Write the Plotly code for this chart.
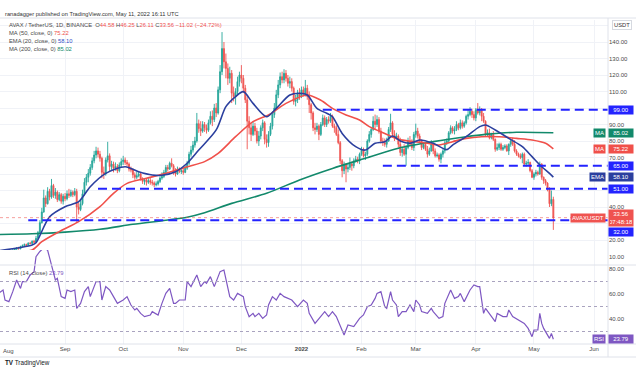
import plotly.graph_objects as go
from datetime import date, timedelta

# ---------------- data ----------------
start_day = date(2021, 7, 29)
first_open = 12.6

closes = [
    12.8, 13.3, 13.1,
    12.9, 12.7, 12.5, 13.3, 13.9, 14.4, 15.2, 14.7, 16.1, 16.6, 17.2, 16.8, 18.1, 17.9, 19.2, 18.7, 21.0, 24.5, 30.5, 37.0,
    45.5, 42.0, 49.5, 46.0, 53.0, 47.0, 49.0, 44.5, 47.5, 43.5, 46.5,
    45.0, 48.0, 47.0, 49.0, 47.5, 49.5, 40.0, 38.5, 42.0, 48.0, 55.0, 58.0, 60.5, 64.0, 68.0, 71.5, 74.0, 72.0, 69.5, 61.0,
    60.0, 68.5, 71.0, 64.5, 66.0, 63.5, 64.5, 62.0, 65.5, 67.5,
    68.5, 67.0, 66.0, 63.0, 62.5, 59.5, 58.0, 59.0, 60.0, 57.0, 55.5, 56.5, 55.0, 56.0, 55.0, 54.5, 53.5, 54.0, 55.5, 57.5,
    58.5, 61.0, 64.0, 63.0, 66.5, 65.0, 61.5, 60.0, 63.0, 61.5, 62.0,
    61.0, 63.5, 66.5, 72.0, 74.5, 77.5, 80.0, 90.5, 87.5, 86.0, 90.0, 88.0, 86.5, 91.0, 95.0, 93.0, 100.0, 97.0, 111.0, 122.0,
    136.0, 128.0, 124.0, 118.0, 121.0, 109.0, 107.0, 110.0, 116.0, 120.0,
    118.0, 112.0, 105.0, 92.0, 88.0, 84.0, 89.0, 86.0, 80.0, 83.0, 88.0, 91.0, 81.0, 79.0, 84.0, 89.0, 96.0, 100.0, 108.0, 114.0,
    119.0, 117.0, 121.0, 118.0, 115.0, 116.0, 112.0, 104.0, 105.0, 109.0, 107.0,
    111.0, 109.0, 112.0, 107.0, 102.0, 97.0, 88.0, 87.0, 89.0, 84.0, 90.0, 94.0, 90.0, 93.0, 92.0, 95.0, 89.0, 88.0, 84.0, 79.0,
    68.0, 62.0, 66.0, 63.0, 64.0, 66.0, 65.0, 68.0, 69.0, 68.0, 72.0,
    75.0, 71.0, 72.0, 80.0, 84.0, 87.0, 92.0, 90.0, 93.0, 86.0, 80.0, 79.0, 78.0, 80.0, 87.0, 91.0, 84.0, 82.0, 83.0, 78.0,
    73.0, 75.0, 72.0, 76.0, 80.0, 78.0, 76.0, 84.0,
    86.0, 83.0, 80.0, 76.0, 78.0, 75.0, 72.0, 74.0, 78.0, 74.0, 71.0, 71.5, 69.0, 72.0, 74.0, 79.0, 80.0, 85.0, 88.0, 86.0,
    87.0, 90.0, 88.0, 91.0, 89.0, 91.0, 95.0, 96.0, 98.0, 96.0, 94.0,
    99.0, 97.0, 99.0, 95.0, 92.0, 84.0, 85.0, 82.0, 84.0, 81.0, 75.0, 76.0, 78.0, 75.0, 76.0, 77.0, 74.0, 78.0, 80.0, 78.0,
    74.0, 72.0, 71.0, 70.0, 72.0, 66.0, 66.5, 67.0, 62.0, 58.0,
    60.0, 61.0, 60.0, 66.0, 58.0, 56.0, 54.5, 51.0, 42.0, 44.58, 33.56,
]

highs = [
    13.1, 13.5, 13.6,
    13.5, 13.2, 13.0, 13.6, 14.3, 14.8, 15.7, 15.9, 16.5, 17.3, 17.9, 17.8, 18.6, 18.9, 19.8, 20.1, 22.5, 25.5, 32.0, 39.5,
    50.5, 47.0, 52.0, 51.0, 57.0, 54.0, 51.5, 50.0, 49.0, 48.5, 48.0,
    48.5, 50.0, 51.0, 50.5, 50.0, 51.5, 51.0, 43.0, 44.0, 50.5, 57.5, 60.0, 63.0, 66.0, 70.0, 74.0, 76.5, 76.0, 74.0, 70.5,
    64.5, 70.0, 79.5, 72.5, 68.0, 67.5, 67.0, 66.0, 67.0, 69.5,
    71.0, 70.0, 68.5, 67.0, 64.5, 63.5, 61.0, 61.5, 61.5, 61.0, 58.0, 57.5, 57.5, 57.5, 57.5, 56.5, 55.5, 55.5, 56.5, 58.5,
    61.0, 62.5, 65.5, 65.5, 67.5, 69.5, 66.0, 63.5, 64.5, 64.0, 63.5,
    63.5, 65.0, 68.0, 73.5, 77.0, 80.0, 82.5, 97.0, 93.0, 92.0, 92.0, 91.5, 90.0, 93.0, 98.0, 98.5, 102.5, 103.0, 113.0, 126.0,
    146.0, 140.0, 133.0, 127.0, 125.0, 123.0, 113.0, 112.0, 119.0, 122.0,
    126.0, 120.0, 114.0, 107.0, 95.0, 91.0, 92.0, 91.0, 88.0, 86.0, 89.5, 93.0, 92.0, 84.0, 86.0, 91.0, 98.0, 103.0, 111.0, 117.0,
    121.5, 122.0, 123.5, 123.0, 120.0, 119.0, 118.0, 113.0, 108.0, 111.0, 112.0,
    113.0, 113.0, 117.0, 114.0, 110.0, 103.0, 98.0, 91.0, 91.0, 90.0, 91.5, 96.0, 95.5, 94.5, 95.0, 97.0, 96.0, 90.5, 89.5, 87.0,
    80.0, 69.0, 67.5, 66.5, 66.5, 70.0, 67.5, 69.5, 71.0, 70.5, 73.0,
    76.5, 76.0, 73.5, 81.0, 86.0, 88.5, 95.0, 96.0, 95.5, 94.5, 88.0, 82.0, 81.5, 82.0, 88.5, 96.5, 92.0, 86.5, 85.0, 84.0,
    82.0, 76.5, 78.0, 77.5, 82.0, 83.0, 81.0, 85.5,
    90.5, 88.0, 84.5, 81.0, 79.0, 79.0, 77.0, 76.0, 80.5, 78.5, 75.5, 73.0, 72.5, 73.0, 75.0, 80.5, 81.5, 86.0, 89.5, 89.0,
    89.0, 92.0, 91.0, 93.0, 92.5, 92.0, 96.0, 99.0, 100.5, 99.5, 98.0,
    100.0, 103.0, 101.0, 100.0, 97.0, 92.5, 87.0, 87.5, 85.0, 86.0, 81.5, 78.5, 79.0, 79.0, 77.5, 78.0, 78.0, 78.5, 81.5, 82.0,
    80.5, 75.0, 73.0, 72.5, 73.0, 73.0, 68.0, 69.0, 67.5, 63.0,
    61.0, 62.5, 62.0, 67.5, 66.5, 58.5, 57.0, 55.0, 52.0, 50.0, 46.25,
]

lows = [
    12.4, 12.6, 12.9,
    12.6, 12.4, 12.1, 12.3, 13.0, 13.6, 14.2, 14.3, 14.4, 15.8, 16.3, 16.2, 16.6, 17.4, 17.6, 18.2, 18.5, 20.6, 24.0, 30.0,
    36.5, 40.0, 41.5, 44.0, 45.0, 45.5, 45.0, 43.0, 43.5, 42.0, 41.5,
    43.5, 44.0, 45.5, 46.0, 46.0, 46.5, 31.0, 35.5, 37.5, 41.0, 47.0, 53.0, 55.0, 59.0, 62.5, 66.5, 69.5, 70.0, 67.5, 57.5,
    57.0, 59.0, 67.0, 61.5, 62.5, 61.0, 62.0, 60.5, 61.0, 64.0,
    65.5, 65.5, 64.5, 61.5, 61.0, 57.5, 56.5, 57.0, 58.0, 56.0, 54.0, 53.5, 53.0, 54.0, 53.5, 53.0, 52.0, 52.5, 53.0, 54.5,
    56.5, 57.5, 60.0, 61.5, 62.5, 64.0, 59.5, 58.5, 59.5, 60.5, 60.0,
    59.5, 60.5, 62.5, 65.5, 70.5, 73.0, 76.0, 79.0, 85.0, 83.0, 85.0, 85.5, 84.5, 85.5, 90.0, 89.0, 91.5, 94.5, 96.0, 109.0,
    120.0, 124.0, 118.0, 114.0, 115.0, 103.0, 104.0, 102.0, 108.0, 113.0,
    115.0, 109.0, 103.0, 75.0, 84.0, 80.0, 83.0, 83.5, 78.5, 77.0, 81.0, 86.0, 78.0, 76.0, 76.5, 83.0, 87.0, 94.0, 99.0, 106.0,
    112.0, 115.0, 115.0, 116.0, 113.0, 112.0, 110.0, 102.0, 101.0, 103.0, 105.0,
    106.0, 107.0, 107.0, 105.0, 97.0, 93.0, 86.0, 84.0, 85.5, 80.5, 83.0, 89.0, 88.5, 88.5, 90.5, 91.0, 88.0, 85.0, 83.0, 78.0,
    66.0, 58.0, 60.0, 55.0, 61.0, 62.5, 62.0, 63.5, 67.0, 66.5, 66.0,
    71.0, 70.0, 68.5, 71.0, 79.0, 82.0, 86.0, 87.0, 88.5, 84.5, 78.5, 77.0, 76.5, 76.0, 79.5, 85.5, 82.0, 80.0, 81.0, 76.0,
    71.0, 70.5, 71.0, 65.0, 75.0, 77.0, 74.5, 74.0,
    82.0, 81.5, 79.0, 74.5, 75.0, 74.0, 70.0, 71.0, 73.5, 72.0, 70.0, 70.0, 67.5, 66.5, 70.0, 72.5, 77.5, 78.5, 84.0, 84.5,
    84.0, 86.0, 86.5, 87.0, 87.5, 88.0, 90.0, 93.0, 95.0, 94.0, 92.5,
    92.0, 96.0, 95.5, 92.0, 91.0, 83.0, 82.5, 81.0, 81.0, 80.0, 73.5, 74.0, 74.5, 74.0, 74.0, 75.0, 73.5, 71.5, 76.5, 77.0,
    73.0, 71.0, 70.0, 69.0, 66.5, 65.0, 64.5, 65.0, 61.0, 57.5,
    56.5, 58.5, 59.0, 59.5, 56.5, 54.0, 53.0, 49.5, 40.0, 40.5, 26.11,
]

ema20_dates = ['2021-07-29', '2021-08-15', '2021-08-17', '2021-08-24', '2021-09-01', '2021-09-08', '2021-09-14',
               '2021-09-22', '2021-10-02', '2021-10-09', '2021-10-16', '2021-10-21', '2021-10-28', '2021-11-03',
               '2021-11-09', '2021-11-18', '2021-11-23', '2021-11-28', '2021-12-02', '2021-12-07', '2021-12-14',
               '2021-12-19', '2021-12-26', '2021-12-31', '2022-01-04', '2022-01-09', '2022-01-14', '2022-01-17',
               '2022-01-22', '2022-01-29', '2022-02-03', '2022-02-08', '2022-02-13', '2022-02-17', '2022-02-21',
               '2022-02-26', '2022-03-03', '2022-03-10', '2022-03-17', '2022-03-20', '2022-03-27', '2022-04-03',
               '2022-04-06', '2022-04-11', '2022-04-18', '2022-04-25', '2022-04-30', '2022-05-05', '2022-05-09',
               '2022-05-11']
ema20_vals = [13.5, 17.0, 18.3, 34.1, 40.2, 43.2, 52.3, 60.4, 64.4, 61.4, 59.4, 59.2, 61.4, 66.5, 74.5, 86.7, 100.8,
              106.9, 109.9, 102.8, 94.7, 99.8, 107.9, 108.9, 107.9, 99.8, 96.8, 94.7, 84.6, 76.6, 74.5, 78.6, 79.6,
              83.0, 80.0, 78.6, 80.6, 78.6, 74.8, 77.5, 82.6, 88.7, 89.7, 86.7, 81.6, 76.6, 70.5, 64.4, 60.4, 58.10]

ma50_dates = ['2021-07-29', '2021-08-15', '2021-08-20', '2021-08-29', '2021-09-08', '2021-09-19', '2021-09-26',
              '2021-10-03', '2021-10-13', '2021-10-23', '2021-11-03', '2021-11-12', '2021-11-19', '2021-11-28',
              '2021-12-07', '2021-12-15', '2021-12-24', '2022-01-04', '2022-01-11', '2022-01-17', '2022-01-24',
              '2022-01-31', '2022-02-05', '2022-02-13', '2022-02-20', '2022-02-28', '2022-03-07', '2022-03-13',
              '2022-03-20', '2022-03-27', '2022-04-04', '2022-04-13', '2022-04-22', '2022-04-30', '2022-05-07',
              '2022-05-11']
ma50_vals = [12.2, 13.9, 19.0, 25.1, 31.1, 40.2, 48.3, 54.3, 57.4, 60.4, 64.4, 67.5, 72.5, 82.6, 91.7, 95.8, 102.8,
             107.9, 104.7, 99.8, 95.8, 92.7, 88.7, 84.6, 81.0, 79.6, 78.6, 77.6, 79.6, 81.6, 82.6, 82.6, 81.6, 80.6,
             78.6, 75.22]

ma200_dates = ['2021-07-29', '2021-08-15', '2021-09-01', '2021-09-19', '2021-10-06', '2021-10-23', '2021-11-03',
               '2021-11-12', '2021-11-26', '2021-12-14', '2021-12-31', '2022-01-17', '2022-02-03', '2022-02-20',
               '2022-03-10', '2022-03-27', '2022-04-06', '2022-04-22', '2022-05-11']
ma200_vals = [23.3, 23.8, 24.8, 26.5, 29.5, 32.0, 33.8, 36.5, 42.2, 48.3, 56.4, 63.4, 69.5, 75.6, 79.6, 82.6, 84.0,
              85.3, 85.02]

rsi_dates = ['2021-07-29', '2021-07-31', '2021-08-01', '2021-08-03', '2021-08-05', '2021-08-07', '2021-08-09',
             '2021-08-10', '2021-08-12', '2021-08-14', '2021-08-16', '2021-08-17', '2021-08-19', '2021-08-21',
             '2021-08-23', '2021-08-25', '2021-08-27', '2021-08-28', '2021-08-30', '2021-09-01', '2021-09-02',
             '2021-09-04', '2021-09-06', '2021-09-07', '2021-09-09', '2021-09-11', '2021-09-13', '2021-09-14',
             '2021-09-17', '2021-09-19', '2021-09-20', '2021-09-22', '2021-09-24', '2021-09-26', '2021-09-28',
             '2021-10-01', '2021-10-03', '2021-10-05', '2021-10-07', '2021-10-08', '2021-10-10', '2021-10-12',
             '2021-10-15', '2021-10-16', '2021-10-19', '2021-10-21', '2021-10-23', '2021-10-25', '2021-10-27',
             '2021-10-28', '2021-10-30', '2021-11-02', '2021-11-03', '2021-11-05', '2021-11-07', '2021-11-08',
             '2021-11-10', '2021-11-12', '2021-11-13', '2021-11-15', '2021-11-17', '2021-11-19', '2021-11-20',
             '2021-11-22', '2021-11-24', '2021-11-25', '2021-11-27', '2021-11-29', '2021-12-02', '2021-12-03',
             '2021-12-05', '2021-12-07', '2021-12-08', '2021-12-10', '2021-12-12', '2021-12-14', '2021-12-15',
             '2021-12-17', '2021-12-19', '2021-12-21', '2021-12-23', '2021-12-25', '2021-12-27', '2021-12-30',
             '2022-01-01', '2022-01-02', '2022-01-04', '2022-01-05', '2022-01-08', '2022-01-10', '2022-01-13',
             '2022-01-15', '2022-01-17', '2022-01-19', '2022-01-21', '2022-01-23', '2022-01-25', '2022-01-28',
             '2022-01-31', '2022-02-02', '2022-02-04', '2022-02-06', '2022-02-08', '2022-02-09', '2022-02-11',
             '2022-02-13', '2022-02-14', '2022-02-16', '2022-02-17', '2022-02-19', '2022-02-20', '2022-02-22',
             '2022-02-24', '2022-02-26', '2022-02-28', '2022-03-01', '2022-03-03', '2022-03-04', '2022-03-07',
             '2022-03-09', '2022-03-10', '2022-03-13', '2022-03-15', '2022-03-16', '2022-03-19', '2022-03-21',
             '2022-03-23', '2022-03-24', '2022-03-26', '2022-03-28', '2022-03-29', '2022-03-31', '2022-04-02',
             '2022-04-03', '2022-04-05', '2022-04-06', '2022-04-08', '2022-04-11', '2022-04-12', '2022-04-15',
             '2022-04-17', '2022-04-18', '2022-04-20', '2022-04-23', '2022-04-24', '2022-04-26', '2022-04-28',
             '2022-04-30', '2022-05-01', '2022-05-03', '2022-05-04', '2022-05-05', '2022-05-06', '2022-05-09',
             '2022-05-10', '2022-05-11']
rsi_vals = [61.0, 63.2, 55.2, 53.9, 61.9, 71.2, 64.5, 69.9, 69.9, 75.2, 77.9, 89.9, 94.0, 97.0, 95.0, 83.2, 71.2,
            72.5, 57.9, 56.5, 63.2, 61.9, 63.2, 48.5, 52.5, 61.9, 65.9, 57.9, 69.9, 69.9, 55.2, 65.9, 63.2, 57.9,
            52.5, 55.2, 57.9, 51.2, 47.2, 48.5, 44.5, 41.9, 43.2, 45.9, 43.2, 52.5, 60.5, 64.5, 52.5, 52.5, 55.2,
            55.2, 69.9, 65.9, 72.5, 75.2, 65.9, 69.9, 68.5, 73.9, 65.9, 73.9, 77.9, 79.2, 64.5, 57.9, 55.2, 60.5,
            57.9, 49.9, 41.9, 44.5, 41.9, 44.5, 40.5, 43.2, 51.2, 57.9, 55.2, 60.5, 57.9, 56.5, 55.2, 49.9, 53.9,
            55.2, 52.5, 44.5, 36.5, 40.5, 45.9, 41.9, 45.9, 41.9, 35.2, 27.2, 35.2, 33.9, 40.5, 43.2, 49.9, 51.2,
            56.5, 60.5, 61.9, 49.9, 48.5, 61.9, 55.2, 51.2, 41.9, 45.9, 45.9, 51.2, 45.9, 55.2, 51.2, 45.9, 44.5,
            48.5, 45.9, 40.5, 41.9, 52.5, 63.2, 56.5, 57.9, 60.5, 53.9, 60.5, 63.2, 67.2, 65.9, 65.9, 44.5, 48.5,
            44.5, 37.9, 44.5, 41.9, 41.9, 47.2, 41.9, 39.2, 37.9, 36.5, 32.5, 25.9, 31.2, 31.2, 44.5, 36.5, 32.5,
            24.5, 28.5, 23.79]

level_values = [99.0, 65.0, 51.0, 32.0]
level_starts = ['2022-01-12', '2022-02-12', '2021-09-18', '2021-08-13']

month_ticks = ['2021-08-01', '2021-09-01', '2021-10-01', '2021-11-01', '2021-12-01', '2022-01-01',
               '2022-02-01', '2022-03-01', '2022-04-01', '2022-05-01', '2022-06-01']
month_labels = ['Aug', 'Sep', 'Oct', 'Nov', 'Dec', '<b>2022</b>', 'Feb', 'Mar', 'Apr', 'May', 'Jun']

price_ticks = [10, 20, 30, 40, 50, 60, 70, 80, 90, 100, 110, 120, 130, 140, 150]
price_tick_labels = ['10.00', '20.00', '', '40.00', '', '', '70.00', '80.00', '90.00', '', '110.00', '120.00',
                     '130.00', '140.00', '']
rsi_ticks = [40, 60, 80]
rsi_tick_labels = ['40.00', '60.00', '80.00']

last_open, last_high, last_low, last_close = 44.58, 46.25, 26.11, 33.56
last_change, last_change_pct = -11.02, -24.72
ma50_last, ema20_last, ma200_last, rsi_last = 75.22, 58.10, 85.02, 23.79
countdown = '07:48:18'

# ---------------- styling ----------------
W, H = 636, 370
PLOT_TOP, PLOT_BOTTOM = 20, 344
PW = 608
PH = PLOT_BOTTOM - PLOT_TOP
X0, X1 = '2021-07-29 10:00', '2022-06-08 05:00'
UP, DOWN = '#26a69a', '#ef5350'
C_EMA, C_MA50, C_MA200, C_RSI = '#2b3f9e', '#f0504a', '#12896b', '#7e57c2'
C_LEVEL = '#2323ff'
FONT = 'Liberation Sans'
TXT = '#4a4a4a'


def pyp(px):
    return (PLOT_BOTTOM - px) / PH


dates = [(start_day + timedelta(days=i)).isoformat() for i in range(len(closes))]
opens = [first_open] + closes[:-1]

fig = go.Figure()
fig.add_trace(go.Candlestick(
    x=dates, open=opens, high=highs, low=lows, close=closes,
    increasing=dict(line=dict(color=UP, width=0.9), fillcolor=UP),
    decreasing=dict(line=dict(color=DOWN, width=0.9), fillcolor=DOWN),
    whiskerwidth=0, showlegend=False, hoverinfo='skip', xaxis='x', yaxis='y'))

for xs, ys, col in [(ma200_dates, ma200_vals, C_MA200), (ma50_dates, ma50_vals, C_MA50),
                    (ema20_dates, ema20_vals, C_EMA)]:
    fig.add_trace(go.Scatter(x=xs, y=ys, mode='lines', line=dict(color=col, width=1.6, shape='spline', smoothing=0.8),
                             showlegend=False, hoverinfo='skip', xaxis='x', yaxis='y'))

fig.add_trace(go.Scatter(x=rsi_dates, y=rsi_vals, mode='lines', line=dict(color=C_RSI, width=1.2),
                         showlegend=False, hoverinfo='skip', xaxis='x', yaxis='y2'))

shapes = []
shapes.append(dict(type='rect', xref='paper', yref='y2', x0=0, x1=1, y0=30, y1=70,
                   fillcolor='rgba(126,87,194,0.10)', line=dict(width=0), layer='below'))
for lv in (70, 50, 30):
    shapes.append(dict(type='line', xref='paper', yref='y2', x0=0, x1=1, y0=lv, y1=lv,
                       line=dict(color='#a9a3bf', width=1, dash='3px,3px')))
shapes.append(dict(type='line', xref='x', yref='y', x0=X0, x1=X1, y0=last_close, y1=last_close,
                   line=dict(color='rgba(239,83,80,0.55)', width=1, dash='dot')))
for lv, st in zip(level_values, level_starts):
    shapes.append(dict(type='line', xref='x', yref='y', x0=st, x1=X1, y0=lv, y1=lv,
                       line=dict(color=C_LEVEL, width=2, dash='9px,5px')))
for yline in (265, 344, 357, 18):
    shapes.append(dict(type='line', xref='paper', yref='paper', x0=0, x1=W / PW, y0=pyp(yline), y1=pyp(yline),
                       line=dict(color='#dfe2ea', width=1)))
shapes.append(dict(type='line', xref='paper', yref='paper', x0=1, x1=1, y0=pyp(357), y1=pyp(18),
                   line=dict(color='#dfe2ea', width=1)))

ann = []


def text(x_px, y_px, s, size=6, color=TXT):
    ann.append(dict(xref='paper', yref='paper', x=x_px / PW, y=pyp(y_px), text=s, showarrow=False,
                    xanchor='left', yanchor='middle', font=dict(family=FONT, size=size, color=color)))


def red(s):
    return "<span style='color:%s'>%s</span>" % (DOWN, s)


text(3, 14, 'ranadagger published on TradingView.com, May 11, 2022 16:11 UTC', size=5.7, color='#333333')
text(7, 25, 'AVAX / TetherUS, 1D, BINANCE  O' + red('%.2f' % last_open) + ' H' + red('%.2f' % last_high) +
     ' L' + red('%.2f' % last_low) + ' C' + red('%.2f' % last_close) + ' ' +
     red('\u2212%.2f (\u2212%.2f%%)' % (abs(last_change), abs(last_change_pct))), size=5.8)
text(7, 33, "MA (50, close, 0) <span style='color:%s'>%.2f</span>" % (C_MA50, ma50_last), size=5.8)
text(7, 41, "EMA (20, close, 0) <span style='color:%s'>%.2f</span>" % ('#3150c8', ema20_last), size=5.8)
text(7, 49, "MA (200, close, 0) <span style='color:%s'>%.2f</span>" % (C_MA200, ma200_last), size=5.8)
text(7, 273, "RSI (14, close) <span style='color:%s'>%.2f</span>" % (C_RSI, rsi_last), size=5.8)
text(3, 363, "<b>TV</b> TradingView", size=6.3, color='#131722')
# first month label sits at the very left edge, where plotly drops the tick label
text(1, 351, month_labels[0], size=6)


def value_box(y, yref, s, bg, yshift=0, fg='white'):
    ann.append(dict(xref='paper', yref=yref, x=1, y=y, text=s, showarrow=False, xanchor='left',
                    yanchor='middle', xshift=0, yshift=yshift, width=22, align='center', bgcolor=bg,
                    borderpad=1, font=dict(family=FONT, size=6, color=fg)))


def name_box(y, yref, s, bg):
    ann.append(dict(xref='paper', yref=yref, x=1, y=y, text=s, showarrow=False, xanchor='right',
                    yanchor='middle', xshift=-2, bgcolor=bg, borderpad=1,
                    font=dict(family=FONT, size=6, color='white')))


for lv in level_values[:3]:
    value_box(lv, 'y', '%.2f' % lv, C_LEVEL)
value_box(level_values[3], 'y', '%.2f' % level_values[3], C_LEVEL, yshift=-12)
value_box(ma200_last, 'y', '%.2f' % ma200_last, C_MA200)
name_box(ma200_last, 'y', 'MA', C_MA200)
value_box(ma50_last, 'y', '%.2f' % ma50_last, C_MA50)
name_box(ma50_last, 'y', 'MA', C_MA50)
value_box(ema20_last, 'y', '%.2f' % ema20_last, C_EMA)
name_box(ema20_last, 'y', 'EMA', C_EMA)
value_box(last_close, 'y', '%.2f<br>%s' % (last_close, countdown), DOWN)
name_box(last_close, 'y', 'AVAXUSDT', DOWN)
value_box(rsi_last, 'y2', '%.2f' % rsi_last, C_RSI)
name_box(rsi_last, 'y2', 'RSI', C_RSI)
ann.append(dict(xref='paper', yref='paper', x=1, y=pyp(25), text='USDT', showarrow=False, xanchor='left',
                yanchor='middle', xshift=4, bgcolor='white', bordercolor='#d6d9e0', borderwidth=1, borderpad=1,
                font=dict(family=FONT, size=5.8, color='#333333')))

fig.update_layout(
    width=W, height=H, margin=dict(l=0, r=W - PW, t=PLOT_TOP, b=H - PLOT_BOTTOM, autoexpand=False),
    paper_bgcolor='white', plot_bgcolor='white', showlegend=False, hovermode=False,
    font=dict(family=FONT, size=6, color=TXT),
    xaxis=dict(type='date', range=[X0, X1], domain=[0, 1], anchor='y2', tickvals=month_ticks[1:],
               ticktext=month_labels[1:], showgrid=True, gridcolor='#f0f2f7', gridwidth=1, zeroline=False,
               showline=False, ticks='', automargin=False, tickfont=dict(family=FONT, size=6, color=TXT),
               rangeslider=dict(visible=False)),
    yaxis=dict(domain=[pyp(265), 1], range=[4.85, 153.33], side='right', anchor='x', tickvals=price_ticks,
               ticktext=price_tick_labels, showgrid=True, gridcolor='#f0f2f7', zeroline=False, showline=False,
               ticks='', automargin=False, tickfont=dict(family=FONT, size=6, color=TXT)),
    yaxis2=dict(domain=[0, pyp(250)], range=[20.0, 95.2], side='right', anchor='x', tickvals=rsi_ticks,
                ticktext=rsi_tick_labels, showgrid=False, zeroline=False, showline=False, ticks='',
                automargin=False, tickfont=dict(family=FONT, size=6, color=TXT)),
    shapes=shapes, annotations=ann,
)

fig.write_html('out.html', config={'displayModeBar': False},
               post_script="document.body.style.margin='0';document.body.style.padding='0';"
                           "document.body.style.overflow='hidden';")
